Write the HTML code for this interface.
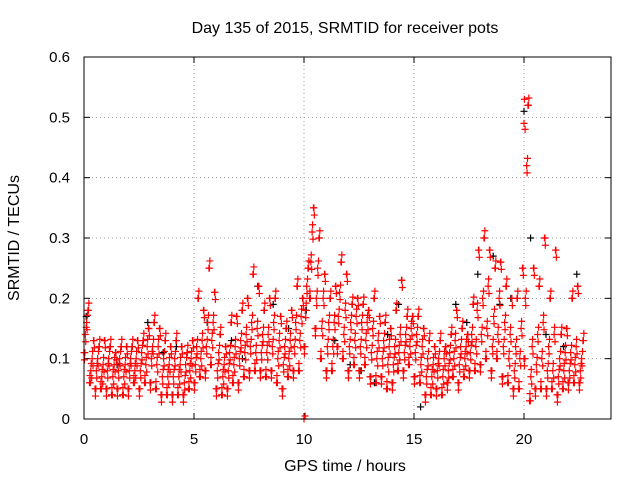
<!DOCTYPE html>
<html><head><meta charset="utf-8"><style>
body{margin:0;background:#fff;width:640px;height:480px;overflow:hidden}
text{font-family:"Liberation Sans",Arial,sans-serif;font-size:15px;fill:#000}
.t{font-size:16px}
</style></head><body>
<svg id="chart" width="640" height="480" xmlns="http://www.w3.org/2000/svg">
<text class="t" x="345" y="33" text-anchor="middle">Day 135 of 2015, SRMTID for receiver pots</text>
<text class="t" transform="translate(19,238) rotate(-90)" text-anchor="middle">SRMTID / TECUs</text>
<text class="t" x="345" y="471" text-anchor="middle">GPS time / hours</text>
<g id="grid"></g>
<g id="ticks"></g>
<g id="black"></g>
<g id="red"></g>
<rect x="84" y="57" width="527" height="362" fill="none" stroke="#000" stroke-width="1"/>
</svg>
<script>
const xTicks=[0,5,10,15,20];
const yTicks=[0,0.1,0.2,0.3,0.4,0.5,0.6];
const yTickLabels=["0","0.1","0.2","0.3","0.4","0.5","0.6"];
const step=0.25;
const lo=[.11,.06,.05,.05,.05,.04,.05,.04,.05,.06,.05,.06,.06,.05,.04,.04,.04,.04,.04,.05,.06,.07,.08,.09,.05,.04,.05,.06,.06,.07,.08,.08,.08,.07,.08,.06,.05,.07,.08,.08,.12,.2,.15,.1,.08,.08,.12,.1,.08,.09,.08,.09,.07,.06,.07,.05,.06,.08,.08,.09,.07,.06,.04,.04,.05,.04,.06,.07,.06,.07,.08,.08,.09,.1,.08,.1,.07,.06,.05,.05,.1,.03,.05,.05,.05,.05,.04,.05,.06,.06,.06];
const m1=[.14,.08,.08,.07,.08,.07,.08,.07,.08,.08,.08,.09,.1,.09,.07,.07,.07,.07,.06,.08,.09,.1,.12,.13,.08,.07,.08,.09,.1,.11,.12,.11,.11,.11,.12,.1,.09,.1,.12,.13,.18,.26,.2,.15,.12,.12,.17,.14,.12,.13,.12,.13,.11,.1,.1,.09,.09,.11,.11,.12,.11,.09,.07,.07,.08,.07,.08,.1,.09,.1,.11,.12,.14,.15,.12,.14,.12,.1,.08,.1,.2,.07,.09,.1,.08,.08,.07,.08,.08,.09,.08];
const m2=[.16,.1,.1,.09,.1,.09,.1,.09,.1,.1,.11,.12,.12,.12,.1,.09,.1,.09,.09,.1,.12,.13,.16,.16,.11,.09,.11,.12,.13,.14,.16,.15,.14,.14,.16,.13,.12,.13,.16,.17,.22,.31,.25,.2,.16,.16,.21,.18,.16,.17,.16,.16,.15,.13,.13,.12,.12,.14,.14,.15,.14,.12,.1,.09,.1,.1,.11,.13,.12,.12,.14,.18,.2,.22,.17,.2,.16,.14,.12,.15,.42,.12,.14,.16,.12,.14,.1,.11,.11,.12,.1];
const hi=[.18,.13,.12,.13,.12,.11,.12,.12,.12,.13,.13,.15,.16,.15,.13,.12,.13,.12,.11,.13,.2,.18,.25,.21,.14,.12,.16,.17,.18,.2,.24,.22,.18,.2,.2,.17,.15,.18,.22,.2,.25,.35,.3,.24,.2,.22,.26,.24,.19,.2,.19,.18,.2,.17,.16,.15,.18,.23,.17,.17,.17,.15,.13,.12,.13,.12,.14,.18,.15,.14,.19,.28,.3,.28,.25,.26,.22,.2,.2,.25,.52,.25,.22,.3,.2,.28,.14,.15,.2,.22,.13];
const blackT=[0.1,1.5,2.9,4.2,5.6,7.2,7.9,8.6,9.3,10.1,11.4,12.6,13.2,14.3,15.3,16.9,17.9,18.6,19.4,20.0,20.3,21.0,21.8,22.4,3.6,6.7,12.1,13.8,17.4,18.9];
const blackV=[.17,.09,.16,.12,.16,.1,.22,.19,.15,.18,.13,.08,.06,.19,.02,.19,.24,.27,.2,.51,.3,.14,.12,.24,.11,.13,.09,.14,.16,.19];
const extraT=[10.0,10.05,20.0,20.02,20.05];
const extraV=[0.0,0.005,0.49,0.53,0.48];

const X=t=>84+t*22, Y=v=>419-v*603.33;
const NS="http://www.w3.org/2000/svg";
const grid=document.getElementById('grid'), ticks=document.getElementById('ticks');
function mk(tag,attrs,parent){const e=document.createElementNS(NS,tag);for(const k in attrs)e.setAttribute(k,attrs[k]);parent.appendChild(e);return e;}
xTicks.forEach(t=>{
  const g=mk('line',{x1:X(t),x2:X(t),y1:57,y2:419,stroke:'#a0a0a0','stroke-dasharray':'1,3'},grid);
  
  
  mk('line',{x1:X(t),x2:X(t),y1:419,y2:413,stroke:'#000'},ticks);
  mk('line',{x1:X(t),x2:X(t),y1:57,y2:63,stroke:'#000'},ticks);
  const l=mk('text',{x:X(t),y:444,'text-anchor':'middle'},ticks);l.textContent=t;
  
  
});
yTicks.forEach((v,i)=>{
  const g=mk('line',{x1:84,x2:611,y1:Y(v),y2:Y(v),stroke:'#a0a0a0','stroke-dasharray':'1,3'},grid);
  
  
  mk('line',{x1:84,x2:90,y1:Y(v),y2:Y(v),stroke:'#000'},ticks);
  mk('line',{x1:611,x2:605,y1:Y(v),y2:Y(v),stroke:'#000'},ticks);
  const l=mk('text',{x:70,y:Y(v)+5,'text-anchor':'end'},ticks);l.textContent=yTickLabels[i];
  
  
});
function plus(t,v,color,parent){
  const x=X(t),y=Y(v);
  const p=mk('path',{d:`M${x-3.5},${y}h7M${x},${y-3.5}v7`,stroke:color,'stroke-width':1.2,fill:'none'},parent);
  
  
}
const blk=document.getElementById('black'), red=document.getElementById('red');
blackT.forEach((t,i)=>plus(t,blackV[i],'#000',blk));
const dv=[0,0.012,-0.012];
[lo,m1,m2,hi].forEach((arr,k)=>arr.forEach((v,i)=>{
  dv.forEach((d,j)=>{
    const vv=(k===3&&j===1)?v:(k===0&&j===2)?v:v+d*((i%2)?1:-1);
    plus(i*step+(k*3+j)*0.02,vv,'#ff0000',red);
  });
}));
extraT.forEach((t,i)=>plus(t,extraV[i],'#ff0000',red));
</script>
</body></html>
